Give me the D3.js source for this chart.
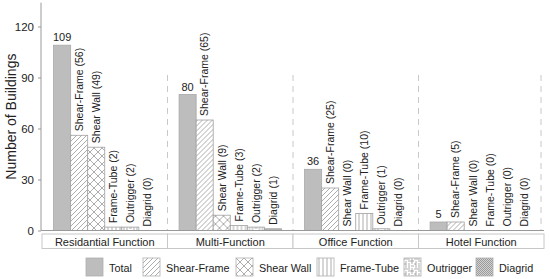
<!DOCTYPE html>
<html>
<head>
<meta charset="utf-8">
<script src="https://cdn.jsdelivr.net/npm/d3@7"></script>
<style>
body { margin: 0; background: #fff; }
text { font-family: "Liberation Sans", Arial, sans-serif; fill: #222; }
</style>
</head>
<body>
<svg id="chart" width="550" height="279"></svg>
<script>
var groups = ["Residantial Function", "Multi-Function", "Office Function", "Hotel Function"];
var types = ["Total", "Shear-Frame", "Shear Wall", "Frame-Tube", "Outrigger", "Diagrid"];
var residential = [109, 56, 49, 2, 2, 0];
var multi = [80, 65, 9, 3, 2, 1];
var office = [36, 25, 0, 10, 1, 0];
var hotel = [5, 5, 0, 0, 0, 0];
var yTicks = [0, 30, 60, 90, 120];
var yLabel = "Number of Buildings";

var allValues = [residential, multi, office, hotel];

var svg = d3.select('#chart');

// patterns
var defs = svg.append('defs');
var lineCol = '#8a8a8a';

var p1 = defs.append('pattern').attr('id', 'pat1')
    .attr('patternUnits', 'userSpaceOnUse').attr('width', 5).attr('height', 5);
p1.append('rect').attr('width', 5).attr('height', 5).attr('fill', '#fff');
p1.append('path').attr('d', 'M-1,1 l2,-2 M0,5 l5,-5 M4,6 l2,-2')
    .attr('stroke', lineCol).attr('stroke-width', 0.7);

var p2 = defs.append('pattern').attr('id', 'pat2')
    .attr('patternUnits', 'userSpaceOnUse').attr('width', 8).attr('height', 8);
p2.append('rect').attr('width', 8).attr('height', 8).attr('fill', '#fff');
p2.append('path').attr('d', 'M0,8 L8,0 M0,0 L8,8 M-1,1 l2,-2 M7,9 l2,-2 M-1,7 l2,2 M7,-1 l2,2')
    .attr('stroke', lineCol).attr('stroke-width', 0.7);

var p3 = defs.append('pattern').attr('id', 'pat3')
    .attr('patternUnits', 'userSpaceOnUse').attr('width', 4).attr('height', 4);
p3.append('rect').attr('width', 4).attr('height', 4).attr('fill', '#fff');
p3.append('path').attr('d', 'M2,0 L2,4').attr('stroke', lineCol).attr('stroke-width', 0.7);

var p4 = defs.append('pattern').attr('id', 'pat4')
    .attr('patternUnits', 'userSpaceOnUse').attr('width', 10).attr('height', 10);
p4.append('rect').attr('width', 10).attr('height', 10).attr('fill', '#fff');
p4.append('path').attr('d', 'M0,1 H6 M8,0 V6 M2,3 V10 M4,3 H10 M5,5 V10 M7,8 H10 M0,6 H2')
    .attr('stroke', lineCol).attr('stroke-width', 0.7);

var p5 = defs.append('pattern').attr('id', 'pat5')
    .attr('patternUnits', 'userSpaceOnUse').attr('width', 2).attr('height', 2);
p5.append('rect').attr('width', 2).attr('height', 2).attr('fill', '#d2d2d2');
p5.append('rect').attr('width', 1).attr('height', 1).attr('fill', '#9a9a9a');
p5.append('rect').attr('x', 1).attr('y', 1).attr('width', 1).attr('height', 1).attr('fill', '#9a9a9a');

var fills = ['#bdbdbd', 'url(#pat1)', 'url(#pat2)', 'url(#pat3)', 'url(#pat4)', 'url(#pat5)'];

var plotLeft = 41, plotRight = 544, plotBottom = 230.5, plotTop = 2.7;

var xGroup = d3.scaleBand().domain(groups).range([plotLeft + 1, plotRight]);
var xType = d3.scaleBand().domain(types).range([0, xGroup.bandwidth()])
    .paddingInner(0).paddingOuter(0.68);
var yScale = d3.scaleLinear().domain([0, 134]).range([plotBottom, plotTop]);

// dashed separators
svg.append('g').selectAll('line')
    .data(groups.slice(1).concat(['end']))
    .enter().append('line')
    .attr('x1', function (d, i) { return i < 3 ? xGroup(d) : plotRight - 3; })
    .attr('x2', function (d, i) { return i < 3 ? xGroup(d) : plotRight - 3; })
    .attr('y1', yScale(91.5))
    .attr('y2', plotBottom)
    .attr('stroke', '#c8c8c8')
    .attr('stroke-width', 1)
    .attr('stroke-dasharray', '6,5');

// bars
var groupG = svg.selectAll('.grp').data(groups).enter().append('g')
    .attr('class', 'grp')
    .attr('transform', function (d) { return 'translate(' + xGroup(d) + ',0)'; });

groupG.each(function (g, gi) {
    var gg = d3.select(this);
    var vals = allValues[gi];
    gg.selectAll('rect').data(vals).enter().append('rect')
        .attr('x', function (d, i) { return xType(types[i]); })
        .attr('y', function (d) { return yScale(d); })
        .attr('width', xType.bandwidth())
        .attr('height', function (d) { return plotBottom - yScale(d); })
        .attr('fill', function (d, i) { return fills[i]; })
        .attr('stroke', function (d, i) { return i == 0 ? '#a8a8a8' : '#a0a0a0'; })
        .attr('stroke-width', 0.8);

    gg.append('text')
        .attr('x', xType(types[0]) + xType.bandwidth() / 2)
        .attr('y', yScale(vals[0]) - 4)
        .attr('text-anchor', 'middle')
        .style('font-size', '11px')
        .text(vals[0]);

    gg.selectAll('.lbl').data(vals.slice(1)).enter().append('text')
        .attr('class', 'lbl')
        .attr('transform', function (d, i) {
            var cx = xType(types[i + 1]) + xType.bandwidth() / 2;
            return 'translate(' + cx + ',' + (yScale(d) - 4) + ') rotate(-90)';
        })
        .attr('dy', '0.36em')
        .style('font-size', '10.5px')
        .text(function (d, i) { return types[i + 1] + ' (' + d + ')'; });
});

// y axis
var yAxis = d3.axisLeft(yScale).tickValues(yTicks).tickSize(3).tickPadding(4);
var yG = svg.append('g').attr('transform', 'translate(' + plotLeft + ',0)').call(yAxis);
yG.select('.domain').attr('stroke', '#999').attr('d', 'M0,' + plotTop + 'V' + plotBottom);
yG.selectAll('.tick line').attr('stroke', '#999');
yG.selectAll('.tick text').style('font-size', '11.5px').style('font-family', '"Liberation Sans", Arial, sans-serif').attr('fill', '#222');

// x axis line
svg.append('line')
    .attr('x1', plotLeft).attr('x2', plotRight)
    .attr('y1', plotBottom).attr('y2', plotBottom)
    .attr('stroke', '#999');

svg.append('text')
    .attr('transform', 'translate(16,' + ((plotTop + plotBottom) / 2) + ') rotate(-90)')
    .attr('text-anchor', 'middle')
    .style('font-size', '14px')
    .text(yLabel);

// category boxes
var boxTop = 234, boxH = 14.5;
svg.append('g').selectAll('rect').data(groups).enter().append('rect')
    .attr('x', function (d) { return xGroup(d); })
    .attr('y', boxTop)
    .attr('width', xGroup.bandwidth())
    .attr('height', boxH)
    .attr('fill', '#fff')
    .attr('stroke', '#c8c8c8');

svg.append('g').selectAll('text').data(groups).enter().append('text')
    .attr('x', function (d) { return xGroup(d) + xGroup.bandwidth() / 2; })
    .attr('y', boxTop + boxH - 2.5)
    .attr('text-anchor', 'middle')
    .style('font-size', '11px')
    .text(function (d) { return d; });

// legend
var legX = [86, 143, 236, 317, 404, 476];
var leg = svg.append('g').selectAll('g').data(types).enter().append('g')
    .attr('transform', function (d, i) { return 'translate(' + legX[i] + ',258)'; });
leg.append('rect')
    .attr('width', 17).attr('height', 18)
    .attr('fill', function (d, i) { return fills[i]; })
    .attr('stroke', '#b0b0b0').attr('stroke-width', 0.8);
leg.append('text')
    .attr('x', 23).attr('y', 13.5)
    .style('font-size', '10.8px')
    .text(function (d) { return d; });
</script>
</body>
</html>
